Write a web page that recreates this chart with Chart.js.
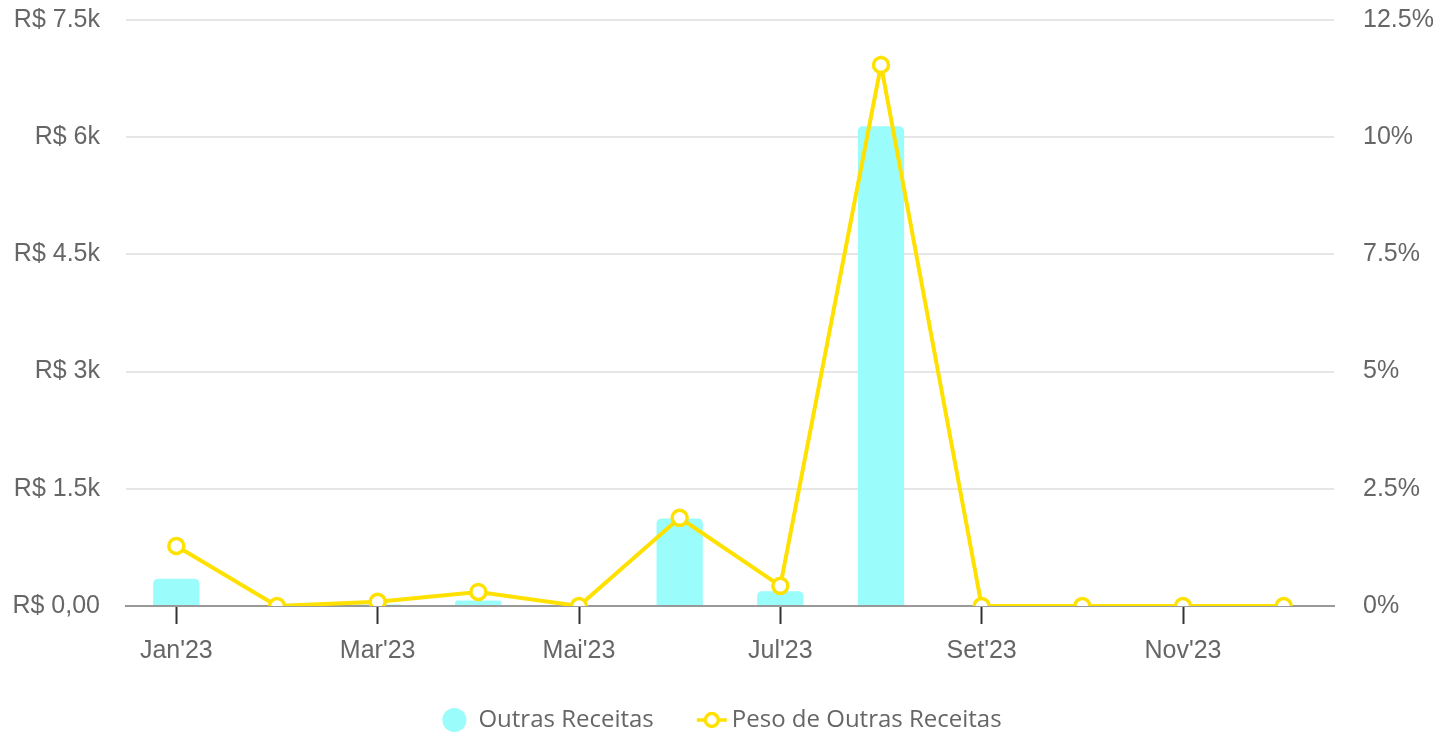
<!DOCTYPE html>
<html>
<head>
<meta charset="utf-8">
<script src="https://cdn.jsdelivr.net/npm/chart.js@4.4.0/dist/chart.umd.min.js"></script>
<style>
  html, body { margin: 0; padding: 0; background: #fff; }
  #wrap { width: 1436px; height: 733px; }
</style>
</head>
<body>
<div id="wrap"><canvas id="chart"></canvas></div>
<script>
// dados do gráfico
const meses = ["Jan'23", "Fev'23", "Mar'23", "Abr'23", "Mai'23", "Jun'23", "Jul'23", "Ago'23", "Set'23", "Out'23", "Nov'23", "Dez'23"];
const outrasReceitas = [350, 0, 20, 70, 0, 1120, 190, 6140, 0, 0, 0, 0];
const pesoOutras = [1.28, 0, 0.09, 0.3, 0, 1.88, 0.43, 11.54, 0, 0, 0, 0];
const ticksReais = ["R$ 0,00", "R$ 1.5k", "R$ 3k", "R$ 4.5k", "R$ 6k", "R$ 7.5k"];

const corBarra = '#9bfcfc';
const corLinha = '#ffe100';

// ícone da legenda da linha (linha com círculo), deslocado um pouco p/ direita
function iconeLinha() {
    const c = document.createElement('canvas');
    c.width = 40;
    c.height = 20;
    const g = c.getContext('2d');
    g.strokeStyle = corLinha;
    g.lineWidth = 3.5;
    g.beginPath();
    g.moveTo(9, 10);
    g.lineTo(39, 10);
    g.stroke();
    g.beginPath();
    g.arc(24, 10, 6.5, 0, Math.PI * 2);
    g.fillStyle = '#fff';
    g.fill();
    g.stroke();
    return c;
}

const fonteEixo = { family: "'Liberation Sans', Arial, sans-serif", size: 25 };

new Chart(document.getElementById('chart'), {
    data: {
        labels: meses,
        datasets: [{
            type: 'bar',
            label: 'Outras Receitas',
            data: outrasReceitas,
            backgroundColor: corBarra,
            borderRadius: { topLeft: 5, topRight: 5 },
            borderSkipped: 'bottom',
            barPercentage: 0.46,
            categoryPercentage: 1,
            yAxisID: 'y',
            order: 1
        }, {
            type: 'line',
            label: 'Peso de Outras Receitas',
            data: pesoOutras,
            borderColor: corLinha,
            borderWidth: 4,
            pointRadius: 7.5,
            pointHoverRadius: 7.5,
            pointBorderWidth: 3.5,
            pointBackgroundColor: '#fff',
            pointBorderColor: corLinha,
            tension: 0,
            yAxisID: 'y1',
            order: 0
        }]
    },
    options: {
        responsive: true,
        maintainAspectRatio: false,
        animation: false,
        layout: { padding: { left: 10, right: 2, top: 20, bottom: -9 } },
        scales: {
            x: {
                offset: true,
                afterFit: s => { s.height = 60; },
                grid: {
                    display: true,
                    offset: false,
                    drawOnChartArea: false,
                    tickLength: 18,
                    tickWidth: 2,
                    tickColor: c => (c.index % 2 === 0 ? '#333' : 'rgba(0,0,0,0)')
                },
                border: { display: true, color: '#999', width: 2 },
                ticks: {
                    autoSkip: false,
                    maxRotation: 0,
                    padding: 12,
                    color: '#666',
                    font: fonteEixo,
                    callback: (v, i) => (i % 2 === 0 ? meses[i] : '')
                }
            },
            y: {
                position: 'left',
                min: 0,
                max: 7500,
                afterFit: s => { s.width = 116; s.paddingTop = 0; s.paddingBottom = 0; },
                grid: { color: '#e6e6e6', lineWidth: 2, drawTicks: false },
                border: { display: false },
                ticks: {
                    stepSize: 1500,
                    padding: 26,
                    color: '#666',
                    font: fonteEixo,
                    callback: (v, i) => ticksReais[i]
                }
            },
            y1: {
                position: 'right',
                min: 0,
                max: 12.5,
                afterFit: s => { s.width = 100; s.paddingTop = 0; s.paddingBottom = 0; },
                grid: { display: false, drawTicks: false },
                border: { display: false },
                ticks: {
                    stepSize: 2.5,
                    padding: 29,
                    color: '#666',
                    font: fonteEixo,
                    callback: v => v + '%'
                }
            }
        },
        plugins: {
            tooltip: { enabled: false },
            legend: {
                position: 'bottom',
                labels: {
                    usePointStyle: true,
                    boxWidth: 24,
                    boxHeight: 17,
                    padding: 42,
                    color: '#666',
                    font: { family: "'Open Sans', sans-serif", size: 24 },
                    sort: (a, b) => a.datasetIndex - b.datasetIndex,
                    generateLabels: function (chart) {
                        const itens = Chart.defaults.plugins.legend.labels.generateLabels(chart);
                        itens.forEach(function (it) {
                            if (it.datasetIndex === 1) {
                                it.pointStyle = iconeLinha();
                            } else {
                                it.pointStyle = 'circle';
                                it.fillStyle = corBarra;
                                it.strokeStyle = corBarra;
                                it.lineWidth = 0;
                            }
                        });
                        return itens;
                    }
                }
            }
        }
    }
});
</script>
</body>
</html>
